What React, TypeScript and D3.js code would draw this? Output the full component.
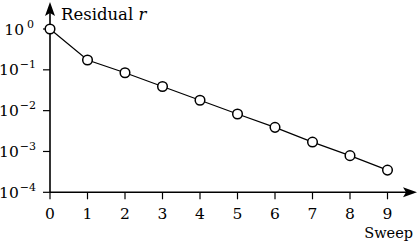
import React from "react";
import * as d3 from "d3";

const sweeps = [0, 1, 2, 3, 4, 5, 6, 7, 8, 9];
const residuals = [1.0, 0.174, 0.085, 0.039, 0.018, 0.0083, 0.0039, 0.0017, 0.00079, 0.00035];
const yTickExps = [0, -1, -2, -3, -4];
const xLabel = "Sweep";
const yLabel = "Residual";

export default function App() {
  const W = 420, H = 246;
  const x = d3.scaleLinear().domain([0, 9]).range([50, 387.5]);
  const y = d3.scaleLog().domain([1e-4, 1]).range([192.3, 29]);
  const line = d3.line<number>().x((_, i) => x(sweeps[i])).y((d) => y(d));
  const font = "'DejaVu Serif', serif";
  const y0 = y(1e-4);
  return (
    <svg width={W} height={H} style={{ position: "absolute", left: 0, top: 0, background: "#fff" }}>
      <g fontFamily={font} fill="#000">
        {/* axes */}
        <line x1={50} y1={y0} x2={407} y2={y0} stroke="#000" strokeWidth={1.6} />
        <path d={`M417,${y0} L403,${y0 - 5} L406,${y0} L403,${y0 + 5} Z`} fill="#000" />
        <line x1={50} y1={y0} x2={50} y2={12} stroke="#000" strokeWidth={1.6} />
        <path d={`M50,2 L45,16 L50,13 L55,16 Z`} fill="#000" />
        {sweeps.map((s) => (
          <g key={s}>
            <line x1={x(s)} x2={x(s)} y1={y0} y2={y0 + 7} stroke="#000" strokeWidth={1.2} />
            <text x={x(s)} y={218.5} textAnchor="middle" fontSize={15.5}>{s}</text>
          </g>
        ))}
        {yTickExps.map((e) => (
          <g key={e}>
            <line x1={43} x2={50} y1={y(Math.pow(10, e))} y2={y(Math.pow(10, e))} stroke="#000" strokeWidth={1.2} />
            <text x={e === 0 ? 34 : 36} y={y(Math.pow(10, e)) + 5.5} textAnchor="end" fontSize={15.5}>
              10
              <tspan dx={e === 0 ? 3 : 1} dy={-7} fontSize={11}>
                {e === 0 ? "0" : "\u2212" + Math.abs(e)}
              </tspan>
            </text>
          </g>
        ))}
        <text x={413} y={238} textAnchor="end" fontSize={14.5}>{xLabel}</text>
        <text x={61} y={20} fontSize={16.5}>
          {yLabel} <tspan fontStyle="italic">r</tspan>
        </text>
        <path d={line(residuals) ?? ""} fill="none" stroke="#000" strokeWidth={1.2} />
        {residuals.map((r, i) => (
          <circle key={i} cx={x(sweeps[i])} cy={y(r)} r={4.8} fill="#fff" stroke="#000" strokeWidth={1.5} />
        ))}
      </g>
    </svg>
  );
}
